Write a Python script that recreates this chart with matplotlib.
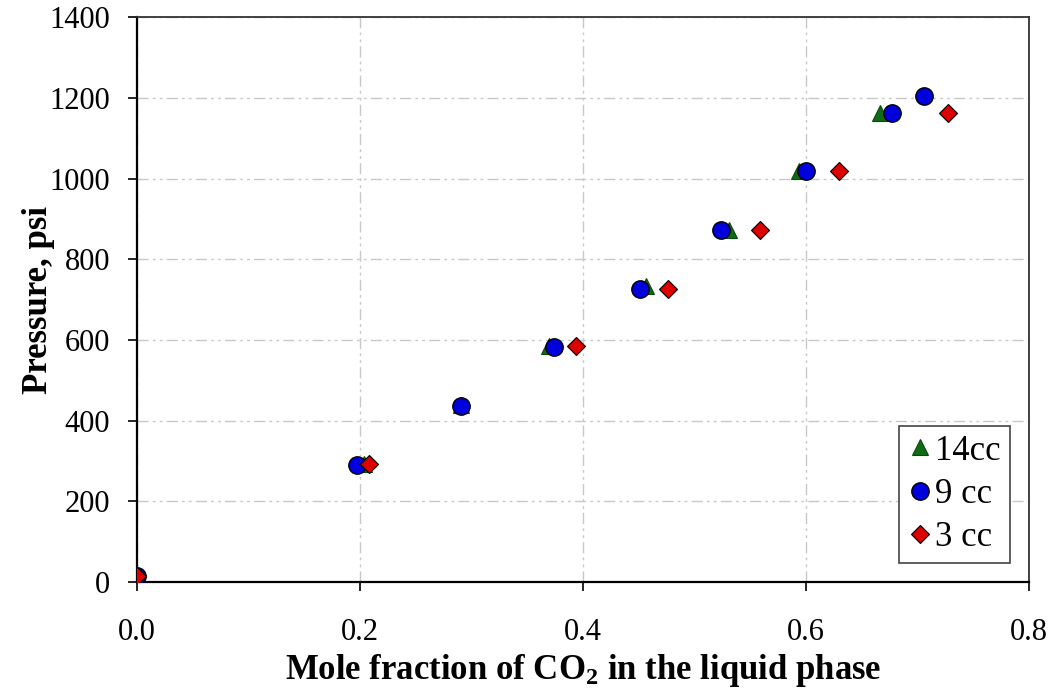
import matplotlib
matplotlib.use("Agg")
import matplotlib.pyplot as plt

# 14cc
tri_x = [0.0, 0.204, 0.291, 0.370, 0.457, 0.531, 0.594, 0.667]
tri_y = [5, 293, 440, 585, 735, 873, 1020, 1162]
# 9 cc
circ_x = [0.0, 0.197, 0.291, 0.374, 0.451, 0.524, 0.600, 0.677, 0.706]
circ_y = [15, 290, 437, 583, 727, 873, 1018, 1162, 1204]
# 3 cc
dia_x = [0.0, 0.208, 0.394, 0.476, 0.559, 0.630, 0.728]
dia_y = [15, 292, 586, 727, 873, 1018, 1162]

x_ticks = [0.0, 0.2, 0.4, 0.6, 0.8]
y_ticks = [0, 200, 400, 600, 800, 1000, 1200, 1400]

plt.rcParams['font.family'] = ['Liberation Serif', 'DejaVu Serif']
plt.rcParams['mathtext.default'] = 'regular'


def main():
    fig = plt.figure(figsize=(10.55, 6.93), dpi=100)
    ax = fig.add_axes([0.130, 0.160, 0.845, 0.815])

    ax.plot(tri_x, tri_y, linestyle='none', marker='^', ms=12, mfc='#0f6b14',
            mec='#0a4a0a', mew=0.8, label='14cc', zorder=3)
    ax.plot(circ_x, circ_y, linestyle='none', marker='o', ms=12.5, mfc='#0000dd',
            mec='black', mew=1.0, label='9 cc', zorder=4)
    ax.plot(dia_x, dia_y, linestyle='none', marker='D', ms=9.5, mfc='#dd0000',
            mec='black', mew=0.8, label='3 cc', zorder=5)

    ax.set_xlim(0, 0.8)
    ax.set_ylim(0, 1400)
    ax.set_xticks(x_ticks)
    ax.set_xticklabels([f"{v:.1f}" for v in x_ticks])
    ax.set_yticks(y_ticks)
    ax.tick_params(labelsize=22, direction='out', length=6.5, width=1.2)
    ax.tick_params(axis='x', pad=19)
    ax.tick_params(axis='y', pad=13)

    ax.grid(True, color='#c8c8c8', linewidth=1.0, linestyle=(0, (8, 3, 2, 3, 2, 3)))
    ax.set_axisbelow(True)

    for side in ['left', 'bottom']:
        ax.spines[side].set_color('black')
        ax.spines[side].set_linewidth(1.6)
    for side in ['top', 'right']:
        ax.spines[side].set_color('#333333')
        ax.spines[side].set_linewidth(1.3)

    ax.set_xlabel(r'Mole fraction of CO$_2$ in the liquid phase', fontsize=25,
                  fontweight='bold', labelpad=4)
    ax.set_ylabel('Pressure, psi', fontsize=25, fontweight='bold', labelpad=-4)

    leg = ax.legend(loc='lower right', fontsize=25, fancybox=False, framealpha=1,
                    edgecolor='#444444', handletextpad=0.05, handlelength=0.75,
                    borderaxespad=0.55, labelspacing=0.3, borderpad=0.25)
    leg.get_frame().set_linewidth(1.2)

    fig.savefig('out.png', dpi=100)


if __name__ == "__main__":
    main()
